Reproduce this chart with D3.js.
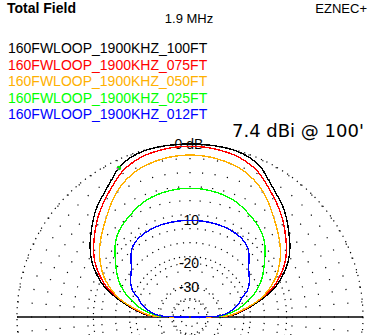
<!DOCTYPE html>
<html>
<head>
<meta charset="utf-8">
<script src="https://cdn.jsdelivr.net/npm/d3@7"></script>
<style>
  body { margin: 0; background: #fff; }
  text { font-family: "Liberation Sans", Arial, sans-serif; }
</style>
</head>
<body>
<div id="plot"></div>
<script>
// elevation angles (deg) for one half of the pattern, mirrored to 180
var elev = [0, 2, 5, 10, 15, 20, 25, 30, 35, 40, 45, 50, 55, 60, 65, 70, 75, 80, 85, 90];

// gain in dB relative to 7.4 dBi (max of 100ft run)
var g100 = [-99, -25, -21.5, -17.5, -13.8, -10.8, -8.8, -7.2, -6.0, -5.0, -4.0, -3.1, -2.4, -1.6, -0.7, -0.25, -0.05, 0, 0, 0];
var g075 = [-99, -25.5, -22, -18, -14.4, -11.4, -9.4, -7.8, -6.6, -5.6, -4.6, -3.7, -2.9, -2.1, -1.3, -0.8, -0.5, -0.35, -0.25, -0.23];
var g050 = [-99, -26, -22.5, -18.2, -14.6, -12.2, -10.3, -8.9, -7.7, -6.7, -5.8, -4.9, -3.9, -3.0, -2.3, -1.8, -1.5, -1.3, -1.17, -1.13];
var g025 = [-99, -30, -25.5, -21.3, -18.4, -15.9, -13.9, -12.4, -11.1, -9.8, -8.5, -7.6, -7.0, -6.5, -6.0, -5.6, -5.35, -5.2, -5.1, -5.07];
var g012 = [-99, -31, -27, -23.5, -21.3, -19.6, -17.2, -15.9, -15.0, -14.0, -12.5, -11.2, -10.6, -10.3, -10.15, -10.05, -10, -10, -10, -10];

var seriesNames = ["160FWLOOP_1900KHZ_100FT", "160FWLOOP_1900KHZ_075FT", "160FWLOOP_1900KHZ_050FT",
                   "160FWLOOP_1900KHZ_025FT", "160FWLOOP_1900KHZ_012FT"];
var seriesColors = ["#000000", "#ff0000", "#ffb000", "#00ff00", "#0000ff"];
var seriesGains = [g100, g075, g050, g025, g012];

var ringDb = [0, -10, -20, -30, -40, -50];
var ringLabels = ["0 dB", "-10", "-20", "-30"];
var cursorElev = 115.5, cursorDb = -0.8;

var width = 382, height = 335;
var cx = 190, cy = 317, R = 173;

var svg = d3.select("#plot").append("svg")
  .attr("width", width).attr("height", height);

// ARRL log scale: radius shrinks by 0.89 every 2 dB -> power^0.253
var rScale = d3.scalePow().exponent(0.2530).domain([0, 1]).range([0, R]);
function rad(db) { return rScale(Math.pow(10, db / 10)); }
var aScale = d3.scaleLinear().domain([0, 180]).range([Math.PI / 2, -Math.PI / 2]);

var g = svg.append("g").attr("transform", "translate(" + cx + "," + cy + ")");

// dotted rings
g.selectAll("circle.ring").data(ringDb).enter().append("circle")
  .attr("class", "ring")
  .attr("r", function(d) { return rad(d); })
  .attr("fill", "none").attr("stroke", "#000").attr("stroke-width", 1.2)
  .attr("stroke-dasharray", "1.2,4.8");

// dotted spokes every 5 degrees, the 15 degree ones go further in
var spokes = d3.range(0, 360, 5);
function inner(d) { return d % 15 == 0 ? rad(-40) : rad(-20); }
g.selectAll("line.spoke").data(spokes).enter().append("line")
  .attr("class", "spoke")
  .attr("x1", function(d) { return rad(0) * Math.cos(d * Math.PI / 180); })
  .attr("y1", function(d) { return -rad(0) * Math.sin(d * Math.PI / 180); })
  .attr("x2", function(d) { return inner(d) * Math.cos(d * Math.PI / 180); })
  .attr("y2", function(d) { return -inner(d) * Math.sin(d * Math.PI / 180); })
  .attr("stroke", "#000").attr("stroke-width", 1.2)
  .attr("stroke-dasharray", "1.2,12.8");

// horizon line
g.append("line")
  .attr("x1", -rad(0)).attr("x2", rad(0)).attr("y1", 0).attr("y2", 0)
  .attr("stroke", "#000").attr("stroke-width", 1.5);

// ring labels
g.selectAll("text.rlab").data(ringLabels).enter().append("text")
  .attr("class", "rlab")
  .attr("x", -1)
  .attr("y", function(d, i) { return -rad(ringDb[i]) + 5; })
  .attr("text-anchor", "middle")
  .style("font-size", "14px")
  .text(function(d) { return d; });

// patterns
var line = d3.lineRadial()
  .angle(function(d) { return aScale(d[0]); })
  .radius(function(d) { return rad(d[1]); })
  .curve(d3.curveCatmullRom);

seriesGains.forEach(function(gains, i) {
  var pts = elev.map(function(e, j) { return [e, gains[j]]; });
  for (var j = elev.length - 2; j >= 0; j--) pts.push([180 - elev[j], gains[j]]);
  g.append("path")
    .datum(pts)
    .attr("d", line)
    .attr("fill", "none")
    .attr("stroke", seriesColors[i])
    .attr("stroke-width", 1.4)
    .attr("shape-rendering", "crispEdges");
});

// cursor marker
var mx = rad(cursorDb) * Math.sin(aScale(cursorElev));
var my = -rad(cursorDb) * Math.cos(aScale(cursorElev));
g.append("circle").attr("cx", mx).attr("cy", my).attr("r", 2.3).attr("fill", "#00e000");
g.append("rect").attr("x", mx - 2).attr("y", my).attr("width", 1.5).attr("height", 1.5).attr("fill", "#ff00ff");

// titles
svg.append("text").attr("x", 7).attr("y", 13)
  .style("font-size", "14px").style("font-weight", "bold").text("Total Field");
svg.append("text").attr("x", 189).attr("y", 23).attr("text-anchor", "middle")
  .style("font-size", "13px").text("1.9 MHz");
svg.append("text").attr("x", 367).attr("y", 13).attr("text-anchor", "end")
  .style("font-size", "13px").text("EZNEC+");

// legend
svg.selectAll("text.leg").data(seriesNames).enter().append("text")
  .attr("class", "leg")
  .attr("x", 8)
  .attr("y", function(d, i) { return 53 + i * 16.5; })
  .attr("fill", function(d, i) { return seriesColors[i]; })
  .style("font-size", "14px")
  .text(function(d) { return d; });

svg.append("text").attr("x", 232).attr("y", 137)
  .style("font-family", "'DejaVu Sans', sans-serif")
  .style("font-size", "18px")
  .text("7.4 dBi @ 100'");
</script>
</body>
</html>
